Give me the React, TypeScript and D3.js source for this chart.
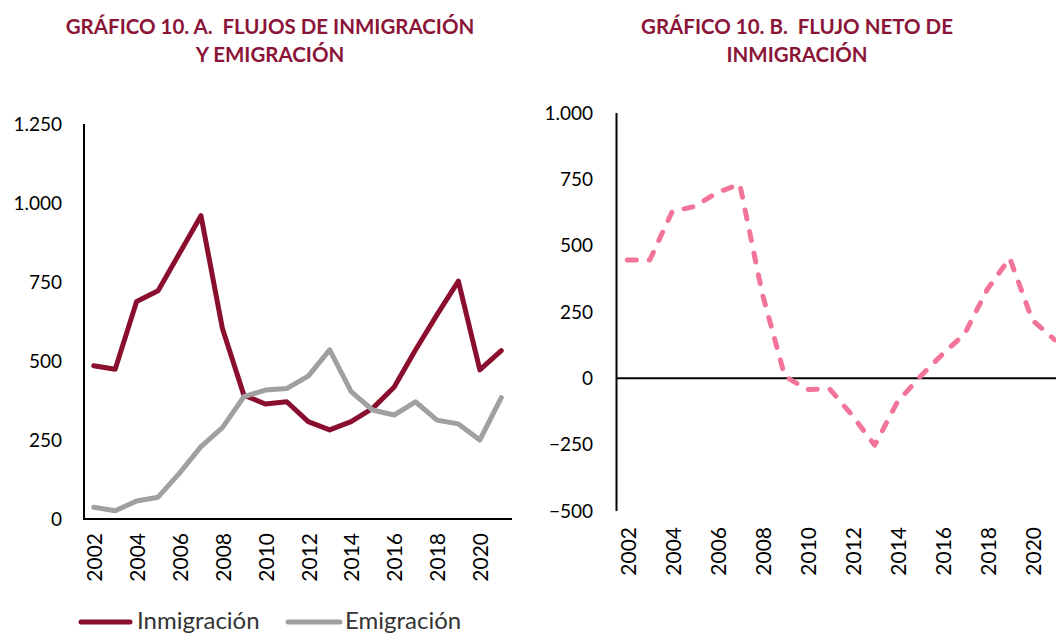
import React from "react";
import * as d3 from "d3";

const years = ["2002","2003","2004","2005","2006","2007","2008","2009","2010","2011","2012","2013","2014","2015","2016","2017","2018","2019","2020","2021"];
const inmigracion = [485, 474, 688, 722, 841, 960, 603, 392, 364, 371, 308, 282, 308, 350, 417, 535, 646, 753, 472, 533];
const emigracion = [37, 26, 57, 69, 145, 229, 289, 387, 408, 413, 452, 535, 403, 345, 329, 371, 313, 301, 250, 384];
const flujoNeto = [446, 446, 629, 648, 700, 732, 320, 8, -42, -40, -140, -252, -90, 5, 90, 168, 335, 453, 220, 145];
const ticksA = [0, 250, 500, 750, 1000, 1250];
const ticksB = [-500, -250, 0, 250, 500, 750, 1000];
const yearLabels = ["2002","2004","2006","2008","2010","2012","2014","2016","2018","2020"];

const W = 1056, H = 634;
const MAROON = "#8A0F2E";
const GREY = "#A0A0A0";
const PINK = "#F27599";
const TITLE = "#8B1538";
const FONT = "Lato, 'Open Sans', sans-serif";

const loc = d3.formatLocale({ decimal: ",", thousands: ".", grouping: [3], currency: ["", ""] });
const fmt = loc.format(",");

export default function App() {
  const xA = d3.scaleBand<string>().domain(years).range([83, 512]);
  const yA = d3.scaleLinear().domain([0, 1250]).range([519, 124]);
  const xB = d3.scaleBand<string>().domain(years).range([616, 1066]);
  const yB = d3.scaleLinear().domain([-500, 1000]).range([511, 113]);

  const cA = (y: string) => (xA(y) as number) + xA.bandwidth() / 2;
  const cB = (y: string) => (xB(y) as number) + xB.bandwidth() / 2;

  const lineA = d3.line<number>().x((_, i) => cA(years[i])).y((d) => yA(d));
  const lineB = d3.line<number>().x((_, i) => cB(years[i])).y((d) => yB(d));

  return (
    <svg width={W} height={H} style={{ position: "absolute", left: 0, top: 0, background: "#fff" }} fontFamily={FONT}>
      {/* Titles */}
      <g fill={TITLE} fontWeight={700} fontSize={20.5} textAnchor="middle" fontFamily={FONT}>
        <text x={270} y={34}>{"GRÁFICO 10. A.\u00A0 FLUJOS DE INMIGRACIÓN"}</text>
        <text x={270} y={62}>{"Y EMIGRACIÓN"}</text>
        <text x={797} y={34}>{"GRÁFICO 10. B.\u00A0 FLUJO NETO DE"}</text>
        <text x={797} y={62}>{"INMIGRACIÓN"}</text>
      </g>

      {/* Chart A */}
      <g>
        {ticksA.map((t) => (
          <text key={t} x={62} y={yA(t)} dy="0.35em" textAnchor="end" fontSize={19} fill="#000">{fmt(t)}</text>
        ))}
        <line x1={84} x2={84} y1={yA(1250)} y2={yA(0)} stroke="#000" strokeWidth={2} />
        <line x1={83} x2={512} y1={yA(0)} y2={yA(0)} stroke="#000" strokeWidth={2} />
        <path d={lineA(inmigracion) || ""} fill="none" stroke={MAROON} strokeWidth={5} strokeLinejoin="round" strokeLinecap="round" />
        <path d={lineA(emigracion) || ""} fill="none" stroke={GREY} strokeWidth={5} strokeLinejoin="round" strokeLinecap="round" />
        {yearLabels.map((y) => (
          <text key={y} transform={`translate(${cA(y) + 1},533) rotate(-90)`} textAnchor="end" dy="0.35em" fontSize={21} fill="#000">{y}</text>
        ))}
      </g>

      {/* Chart B */}
      <g>
        {ticksB.map((t) => (
          <text key={t} x={593} y={yB(t)} dy="0.35em" textAnchor="end" fontSize={19} fill="#000">{fmt(t)}</text>
        ))}
        <line x1={616.5} x2={616.5} y1={yB(1000)} y2={yB(-500)} stroke="#000" strokeWidth={2} />
        <line x1={616} x2={1066} y1={yB(0)} y2={yB(0)} stroke="#000" strokeWidth={2} />
        <path d={lineB(flujoNeto) || ""} fill="none" stroke={PINK} strokeWidth={5} strokeDasharray="9 13" strokeLinejoin="round" strokeLinecap="round" />
        {yearLabels.map((y) => (
          <text key={y} transform={`translate(${cB(y) + 1},527) rotate(-90)`} textAnchor="end" dy="0.35em" fontSize={21} fill="#000">{y}</text>
        ))}
      </g>

      {/* Legend */}
      <g fontSize={24} fill="#333">
        <line x1={81} x2={130} y1={622} y2={622} stroke={MAROON} strokeWidth={5} strokeLinecap="round" />
        <text x={137} y={629}>Inmigración</text>
        <line x1={288} x2={340} y1={622} y2={622} stroke={GREY} strokeWidth={5} strokeLinecap="round" />
        <text x={345} y={629}>Emigración</text>
      </g>
    </svg>
  );
}
